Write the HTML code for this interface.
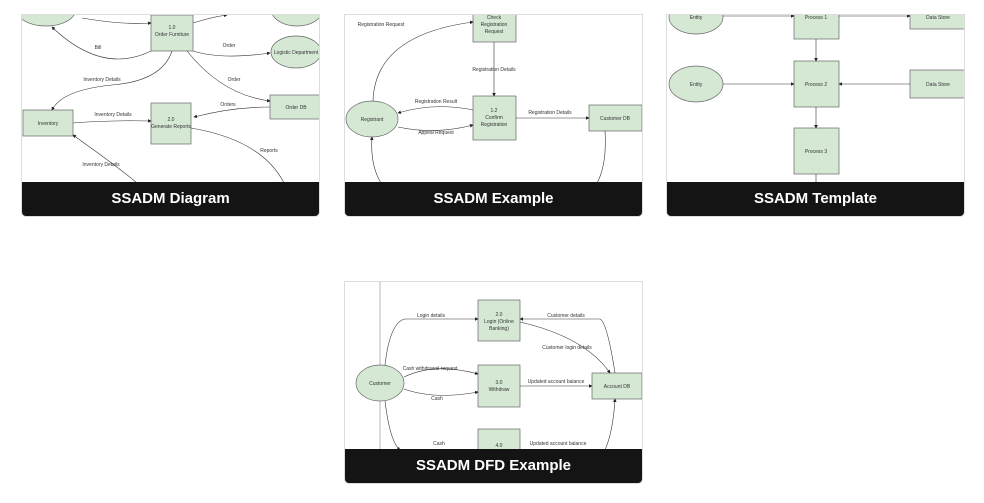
<!DOCTYPE html>
<html><head><meta charset="utf-8"><style>
html,body{margin:0;padding:0;background:#fff;width:984px;height:503px;overflow:hidden;font-family:"Liberation Sans",sans-serif}
.card{position:absolute;width:299px;height:203px;border:1px solid #ddd;border-radius:0 0 5px 5px;overflow:hidden;background:#fff;box-sizing:border-box}
.card svg{position:absolute;left:0;top:0}
.bar{position:absolute;left:0;right:0;bottom:0;height:34px;background:#141414;color:#fff;font-weight:bold;font-size:15px;text-align:center;line-height:34px}
svg text{font-family:"Liberation Sans",sans-serif;fill:#333}
</style></head><body>
<svg width="0" height="0" style="position:absolute"><defs><marker id="a" markerWidth="6" markerHeight="6" refX="5" refY="3" orient="auto"><path d="M0,0L6,3L0,6z" fill="#222"/></marker></defs></svg>

<div class="card" style="left:21px;top:14px">
<svg width="299" height="168" font-size="5">
<g fill="#d5e8d4" stroke="#666" stroke-width="0.7">
<ellipse cx="24" cy="-6" rx="30" ry="17"/><ellipse cx="275" cy="-6" rx="26" ry="17"/>
<ellipse cx="274" cy="37" rx="25" ry="16"/>
<rect x="129" y="0" width="42" height="36"/><rect x="248" y="80" width="51" height="24"/>
<rect x="1" y="95" width="50" height="26"/><rect x="129" y="88" width="40" height="41"/>
</g>
<g fill="none" stroke="#333" stroke-width="0.6" marker-end="url(#a)">
<path d="M60,3 Q100,10 129,8"/><path d="M171,8 Q190,2 205,0"/>
<path d="M129,36 Q80,60 30,12"/>
<path d="M171,36 Q200,45 248,38"/>
<path d="M165,36 Q200,80 248,86"/>
<path d="M150,36 Q140,66 90,70 Q40,75 30,95"/>
<path d="M51,108 Q90,105 129,106"/>
<path d="M248,92 Q210,92 172,102"/>
<path d="M115,168 Q100,155 51,120"/>
</g>
<path d="M169,113 Q240,125 262,168" fill="none" stroke="#333" stroke-width="0.6"/>
<g text-anchor="middle"><text x="150" y="14">1.0</text><text x="150" y="21">Order Furniture</text>
<text x="274" y="39">Logistic Department</text><text x="274" y="94">Order DB</text>
<text x="26" y="110">Inventory</text><text x="149" y="106">2.0</text><text x="149" y="113">Generate Reports</text>
<text x="76" y="34">Bill</text><text x="207" y="32">Order</text><text x="212" y="66">Order</text>
<text x="80" y="66">Inventory Details</text><text x="91" y="101">Inventory Details</text>
<text x="206" y="91">Orders</text><text x="79" y="151">Inventory Details</text><text x="247" y="137">Reports</text></g>
</svg>
<div class="bar">SSADM Diagram</div></div>

<div class="card" style="left:344px;top:14px">
<svg width="299" height="168" font-size="5">
<g fill="#d5e8d4" stroke="#666" stroke-width="0.7">
<rect x="128" y="-4" width="43" height="31"/><rect x="128" y="81" width="43" height="44"/>
<ellipse cx="27" cy="104" rx="26" ry="18"/><rect x="244" y="90" width="53" height="26"/>
</g>
<g fill="none" stroke="#333" stroke-width="0.6" marker-end="url(#a)">
<path d="M28,86 Q30,20 128,7"/><path d="M149,27 L149,81"/>
<path d="M128,95 Q90,87 53,98"/><path d="M53,112 Q90,120 128,110"/>
<path d="M171,103 L244,103"/><path d="M36,168 Q25,150 27,122"/>
</g>
<path d="M260,116 Q262,150 252,168" fill="none" stroke="#333" stroke-width="0.6"/>
<g text-anchor="middle"><text x="149" y="4">Check</text><text x="149" y="11">Registration</text><text x="149" y="18">Request</text>
<text x="149" y="97">1.2</text><text x="149" y="104">Confirm</text><text x="149" y="111">Registration</text>
<text x="27" y="106">Registrant</text><text x="270" y="105">Customer DB</text>
<text x="36" y="11">Registration Request</text><text x="149" y="56">Registration Details</text>
<text x="91" y="88">Registration Result</text><text x="91" y="119">Appeal Request</text><text x="205" y="99">Registration Details</text></g>
</svg>
<div class="bar">SSADM Example</div></div>

<div class="card" style="left:666px;top:14px">
<svg width="299" height="168" font-size="5">
<g fill="#d5e8d4" stroke="#666" stroke-width="0.7">
<ellipse cx="29" cy="2" rx="27" ry="17"/><rect x="127" y="-4" width="45" height="28"/><rect x="243" y="-4" width="56" height="18"/>
<ellipse cx="29" cy="69" rx="27" ry="18"/><rect x="127" y="46" width="45" height="46"/><rect x="243" y="55" width="56" height="28"/>
<rect x="127" y="113" width="45" height="46"/>
</g>
<g fill="none" stroke="#333" stroke-width="0.6" marker-end="url(#a)">
<path d="M56,1 L127,1"/><path d="M172,1 L243,1"/><path d="M149,24 L149,46"/>
<path d="M56,69 L127,69"/><path d="M243,69 L172,69"/><path d="M149,92 L149,113"/>
</g>
<path d="M149,159 L149,168" stroke="#333" stroke-width="0.6"/>
<g text-anchor="middle"><text x="29" y="4">Entity</text><text x="149" y="4">Process 1</text><text x="271" y="4">Data Store</text>
<text x="29" y="71">Entity</text><text x="149" y="71">Process 2</text><text x="271" y="71">Data Store</text><text x="149" y="138">Process 3</text></g>
</svg>
<div class="bar">SSADM Template</div></div>

<div class="card" style="left:344px;top:281px">
<svg width="299" height="168" font-size="5">
<line x1="35" y1="0" x2="35" y2="168" stroke="#999" stroke-width="0.7"/>
<g fill="#d5e8d4" stroke="#666" stroke-width="0.7">
<rect x="133" y="18" width="42" height="41"/><ellipse cx="35" cy="101" rx="24" ry="18"/>
<rect x="133" y="83" width="42" height="42"/><rect x="247" y="91" width="50" height="26"/><rect x="133" y="147" width="42" height="30"/>
</g>
<g fill="none" stroke="#333" stroke-width="0.6" marker-end="url(#a)">
<path d="M40,83 Q45,40 60,37 L133,37"/><path d="M270,91 Q262,40 255,37 L175,37"/>
<path d="M175,40 Q240,55 265,91"/>
<path d="M59,95 Q90,80 133,92"/><path d="M59,107 Q90,118 133,110"/>
<path d="M175,104 L247,104"/><path d="M260,168 Q268,150 270,117"/>
<path d="M40,119 Q45,160 55,168"/>
</g>
<g text-anchor="middle"><text x="154" y="34">2.0</text><text x="154" y="41">Login (Online</text><text x="154" y="48">Banking)</text>
<text x="154" y="102">3.0</text><text x="154" y="109">Withdraw</text><text x="154" y="165">4.0</text>
<text x="35" y="103">Customer</text><text x="272" y="106">Account DB</text>
<text x="86" y="35">Login details</text><text x="221" y="35">Customer details</text><text x="222" y="67">Customer login details</text>
<text x="85" y="88">Cash withdrawal request</text><text x="92" y="118">Cash</text><text x="211" y="101">Updated account balance</text>
<text x="94" y="163">Cash</text><text x="213" y="163">Updated account balance</text></g>
</svg>
<div class="bar">SSADM DFD Example</div></div>
</body></html>
